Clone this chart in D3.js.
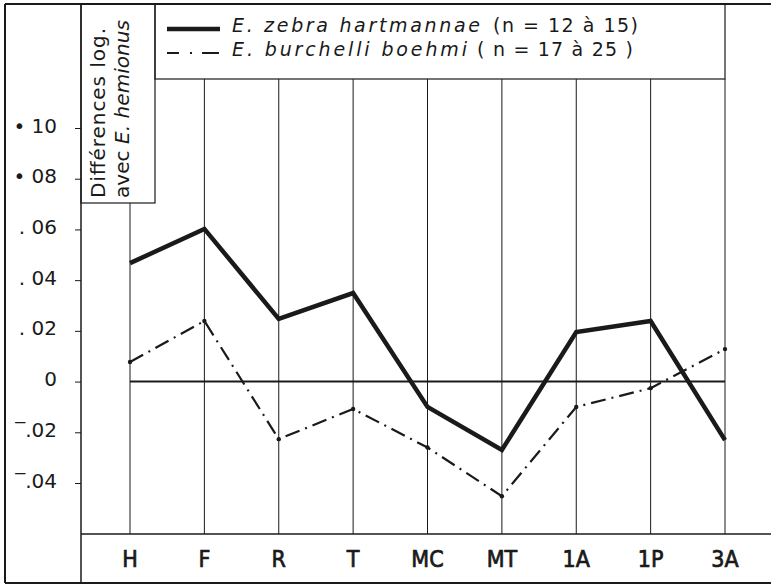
<!DOCTYPE html>
<html>
<head>
<meta charset="utf-8">
<script src="https://cdn.jsdelivr.net/npm/d3@7"></script>
<style>
  body { margin: 0; background: #fff; }
  svg { display: block; font-family: "DejaVu Sans", sans-serif; }
</style>
</head>
<body>
<svg id="chart" width="771" height="585"></svg>
<script>
// Data
const categories = ["H", "F", "R", "T", "MC", "MT", "1A", "1P", "3A"];
const zebra = [0.0467, 0.0602, 0.0247, 0.0349, -0.0100, -0.0270, 0.0195, 0.0239, -0.0231];
const burchelli = [0.0077, 0.0239, -0.0227, -0.0108, -0.0260, -0.0452, -0.0100, -0.0026, 0.0128];
const tickValues = [0.10, 0.08, 0.06, 0.04, 0.02, 0, -0.02, -0.04];
const tickLabels = ["• 10", "• 08", ". 06", ". 04", ". 02", "0", "\u203E.02", "\u203E.04"];

const ink = "#1a1a1a";
const dashDot = "15 6 2 6";
const svg = d3.select("#chart");

const x = d3.scalePoint()
    .domain(categories)
    .range([130, 725]);

const y = d3.scaleLinear()
    .domain([-0.04, 0.10])
    .range([483, 128]);

// Frame
const frame = svg.append("g")
    .attr("stroke", ink)
    .attr("fill", "none");
frame.append("line").attr("x1", 5).attr("y1", 4).attr("x2", 771).attr("y2", 4).attr("stroke-width", 2);
frame.append("line").attr("x1", 5).attr("y1", 583).attr("x2", 771).attr("y2", 583).attr("stroke-width", 2);
frame.append("line").attr("x1", 5).attr("y1", 4).attr("x2", 5).attr("y2", 583).attr("stroke-width", 2);
frame.append("line").attr("x1", 81).attr("y1", 4).attr("x2", 81).attr("y2", 583).attr("stroke-width", 1.5);
frame.append("line").attr("x1", 81).attr("y1", 534).attr("x2", 771).attr("y2", 534).attr("stroke-width", 1.5);

// Title box and legend box
frame.append("rect")
    .attr("x", 81).attr("y", 4)
    .attr("width", 74).attr("height", 199)
    .attr("stroke-width", 1.2);
frame.append("rect")
    .attr("x", 155).attr("y", 4)
    .attr("width", 725 - 155).attr("height", 75)
    .attr("stroke-width", 1.2);

// Vertical category lines
svg.append("g")
  .selectAll("line")
  .data(categories)
  .join("line")
    .attr("x1", d => x(d))
    .attr("x2", d => x(d))
    .attr("y1", (d, i) => i === 0 ? 203 : 79)
    .attr("y2", 534)
    .attr("stroke", ink)
    .attr("stroke-width", 1);

// Zero line
svg.append("line")
    .attr("x1", x(categories[0]))
    .attr("x2", x(categories[categories.length - 1]))
    .attr("y1", y(0))
    .attr("y2", y(0))
    .attr("stroke", ink)
    .attr("stroke-width", 2);

// Y axis ticks on the left of the inner line
const yAxis = d3.axisLeft(y)
    .tickValues(tickValues)
    .tickSize(6)
    .tickFormat((d, i) => tickLabels[i]);
const yAxisG = svg.append("g")
    .attr("transform", "translate(81,0)")
    .call(yAxis);
yAxisG.select(".domain").remove();
yAxisG.selectAll(".tick line").attr("stroke", ink);
yAxisG.selectAll(".tick text")
    .attr("x", -24)
    .attr("dy", "0.2em")
    .attr("fill", ink)
    .attr("font-size", 20)
    .attr("font-family", "DejaVu Sans, sans-serif");

// Category labels
svg.append("g")
  .selectAll("text")
  .data(categories)
  .join("text")
    .attr("x", d => x(d))
    .attr("y", 567)
    .attr("text-anchor", "middle")
    .attr("font-size", 23)
    .attr("font-family", "'DejaVu Sans Condensed', 'Liberation Sans Narrow', sans-serif")
    .attr("fill", ink)
    .attr("stroke", ink)
    .attr("stroke-width", 0.7)
    .text(d => d);

// Series
const line = d3.line()
    .x((d, i) => x(categories[i]))
    .y(d => y(d));

svg.append("path")
    .datum(zebra)
    .attr("d", line)
    .attr("fill", "none")
    .attr("stroke", ink)
    .attr("stroke-width", 4.5)
    .attr("stroke-linejoin", "miter");

svg.append("path")
    .datum(burchelli)
    .attr("d", line)
    .attr("fill", "none")
    .attr("stroke", ink)
    .attr("stroke-width", 2.2)
    .attr("stroke-dasharray", dashDot);

svg.append("g")
  .selectAll("circle")
  .data(burchelli)
  .join("circle")
    .attr("cx", (d, i) => x(categories[i]))
    .attr("cy", d => y(d))
    .attr("r", 2.2)
    .attr("fill", ink);

// Y title (rotated)
const title = svg.append("g")
    .attr("fill", ink)
    .attr("font-size", 20);
title.append("g")
    .attr("transform", "translate(105,198) rotate(-90)")
  .append("text")
    .attr("textLength", 170)
    .attr("lengthAdjust", "spacing")
    .text("Différences log.");
const t2 = title.append("g")
    .attr("transform", "translate(129,198) rotate(-90)")
  .append("text")
    .attr("textLength", 178)
    .attr("lengthAdjust", "spacing");
t2.append("tspan").text("avec ");
t2.append("tspan").attr("font-style", "italic").text("E. hemionus");

// Legend
const legend = svg.append("g")
    .attr("fill", ink)
    .attr("font-size", 19);
legend.append("line")
    .attr("x1", 167).attr("x2", 220)
    .attr("y1", 29).attr("y2", 29)
    .attr("stroke", ink).attr("stroke-width", 4.5);
legend.append("line")
    .attr("x1", 167).attr("x2", 220)
    .attr("y1", 53).attr("y2", 53)
    .attr("stroke", ink).attr("stroke-width", 2.2)
    .attr("stroke-dasharray", "12 11 2 10 17");

legend.append("text")
    .attr("x", 232).attr("y", 32)
    .attr("font-style", "italic")
    .attr("textLength", 248).attr("lengthAdjust", "spacing")
    .text("E. zebra hartmannae");
legend.append("text")
    .attr("x", 493).attr("y", 32)
    .attr("textLength", 145).attr("lengthAdjust", "spacing")
    .text("(n = 12 à 15)");

legend.append("text")
    .attr("x", 232).attr("y", 56)
    .attr("font-style", "italic")
    .attr("textLength", 235).attr("lengthAdjust", "spacing")
    .text("E. burchelli boehmi");
legend.append("text")
    .attr("x", 477).attr("y", 56)
    .attr("textLength", 156).attr("lengthAdjust", "spacing")
    .text("( n = 17 à 25 )");
</script>
</body>
</html>
